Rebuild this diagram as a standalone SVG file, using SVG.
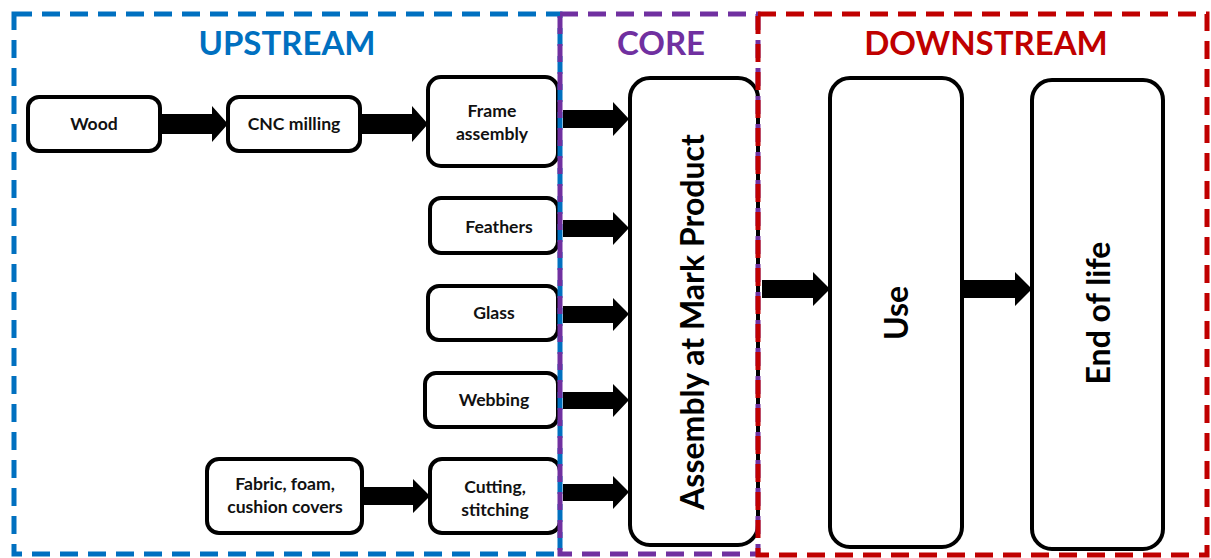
<svg xmlns="http://www.w3.org/2000/svg" width="1211" height="558" viewBox="0 0 1211 558">
<style>
.node rect{fill:#fff;stroke:#000;stroke-width:4}
.lbl{font-family:Lato,"Open Sans","Liberation Sans",sans-serif;font-weight:bold;font-size:17.6px;fill:#111;text-anchor:middle}
.big{font-family:Lato,"Open Sans","Liberation Sans",sans-serif;font-weight:bold;font-size:32px;fill:#000;text-anchor:middle}
.title{font-family:Lato,"Open Sans","Liberation Sans",sans-serif;font-weight:bold;font-size:33px;text-anchor:middle}
.zone{fill:none;stroke-width:5;stroke-dasharray:18 10}
.arr{fill:#000}
</style>
<rect width="1211" height="558" fill="#fff"/>
<g id="nodes">
<g id="wood" class="node"><rect x="28" y="97" width="132" height="54" rx="11"/><text class="lbl" x="94" y="130">Wood</text></g>
<g id="cnc" class="node"><rect x="228" y="97" width="132" height="54" rx="11"/><text class="lbl" x="294" y="130">CNC milling</text></g>
<g id="frame" class="node"><rect x="428" y="77" width="130" height="89" rx="13"/><text class="lbl" x="492" y="117">Frame</text><text class="lbl" x="492" y="140">assembly</text></g>
<g id="feathers" class="node"><rect x="430" y="198" width="128" height="55" rx="11"/><text class="lbl" x="499" y="233">Feathers</text></g>
<g id="glass" class="node"><rect x="428" y="286" width="130" height="54" rx="11"/><text class="lbl" x="494" y="319">Glass</text></g>
<g id="webbing" class="node"><rect x="425" y="373" width="133" height="54" rx="11"/><text class="lbl" x="494" y="406">Webbing</text></g>
<g id="fabric" class="node"><rect x="207" y="459" width="155" height="74" rx="12"/><text class="lbl" x="285" y="490">Fabric, foam,</text><text class="lbl" x="285" y="513">cushion covers</text></g>
<g id="cutting" class="node"><rect x="430" y="459" width="130" height="74" rx="12"/><text class="lbl" x="495" y="493">Cutting,</text><text class="lbl" x="495" y="516">stitching</text></g>
<g id="assembly" class="node"><rect x="630" y="78" width="128" height="467" rx="20"/><text class="big" transform="translate(704,322) rotate(-90)">Assembly at Mark Product</text></g>
<g id="use" class="node"><rect x="830" y="78" width="132" height="469" rx="20"/><text class="big" font-size="33" transform="translate(908,313) rotate(-90)">Use</text></g>
<g id="eol" class="node"><rect x="1032" y="80" width="131" height="469" rx="20"/><text class="big" transform="translate(1110,313) rotate(-90)">End of life</text></g>
</g>
<g id="connectors">
<polygon class="arr" points="161,114 212,114 212,106 228,124 212,142 212,134 161,134"/>
<polygon class="arr" points="361,114 412,114 412,106 428,124 412,142 412,134 361,134"/>
<polygon class="arr" points="563,110 613,110 613,102 629,119 613,136 613,128 563,128"/>
<polygon class="arr" points="563,220 613,220 613,212 629,228 613,245 613,237 563,237"/>
<polygon class="arr" points="563,306 613,306 613,298 629,314 613,331 613,323 563,323"/>
<polygon class="arr" points="563,392 613,392 613,384 629,400 613,417 613,409 563,409"/>
<polygon class="arr" points="563,484 613,484 613,476 629,492 613,509 613,501 563,501"/>
<polygon class="arr" points="363,487 413,487 413,479 430,496 413,513 413,505 363,505"/>
<polygon class="arr" points="762,280 813,280 813,272 830,289 813,306 813,298 762,298"/>
<polygon class="arr" points="963,280 1015,280 1015,272 1032,289 1015,306 1015,298 963,298"/>
</g>
<g id="zones">
<rect class="zone" x="14" y="14" width="546" height="540" stroke="#0070C0"/>
<rect class="zone" x="560" y="14" width="198" height="540" stroke="#7030A0"/>
<rect class="zone" x="758" y="14" width="449" height="541" stroke="#C00000"/>
<text class="title" x="287" y="55" fill="#0070C0">UPSTREAM</text>
<text class="title" x="661" y="55" fill="#7030A0">CORE</text>
<text class="title" x="986" y="55" fill="#C00000">DOWNSTREAM</text>
</g>
</svg>
